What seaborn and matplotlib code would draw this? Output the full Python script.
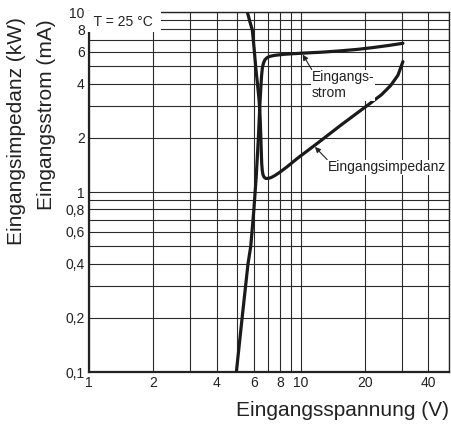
import numpy as np
import pandas as pd
import matplotlib
matplotlib.use("Agg")
import matplotlib.pyplot as plt
import seaborn as sns

# Curve values (log-log)
strom_v = [4.96, 5.28, 5.63, 5.8, 6.0, 6.15, 6.3, 6.4, 6.47, 6.52, 6.58, 6.66, 6.76, 6.9,
           7.1, 7.5, 8.3, 10.0, 12.5, 15.0, 18.5, 22.0, 26.0, 30.3]
strom_ma = [0.1, 0.2, 0.4, 0.5, 0.8, 1.2, 2.0, 3.0, 3.8, 4.4, 4.9, 5.2, 5.42, 5.56,
            5.66, 5.74, 5.82, 5.9, 5.98, 6.07, 6.2, 6.35, 6.52, 6.7]

imp_v = [5.55, 5.75, 5.9, 6.02, 6.12, 6.25, 6.35, 6.42, 6.46, 6.5, 6.53, 6.57, 6.62, 6.7,
         6.82, 6.98, 7.2, 7.5, 7.9, 8.6, 9.64, 12.0, 15.5, 20.7, 24.0, 26.5, 28.7, 30.3]
imp_kw = [10.3, 8.8, 7.94, 6.2, 4.95, 3.9, 3.24, 2.6, 2.13, 1.7, 1.45, 1.32, 1.25, 1.21,
          1.19, 1.19, 1.2, 1.23, 1.28, 1.38, 1.54, 1.87, 2.36, 3.04, 3.47, 3.9, 4.45, 5.3]

x_grid = [1, 2, 3, 4, 5, 6, 7, 8, 9, 10, 20, 30, 40, 50]
x_labels = ["1", "2", "", "4", "", "6", "", "8", "", "10", "20", "", "40", ""]
y_grid = [0.1, 0.2, 0.3, 0.4, 0.5, 0.6, 0.7, 0.8, 0.9, 1, 2, 3, 4, 5, 6, 7, 8, 9, 10]
y_labels = ["0,1", "0,2", "", "0,4", "", "0,6", "", "0,8", "", "1", "2", "", "4", "", "6", "", "8", "", "10"]

sns.set_theme(style="white")
plt.rcParams["font.family"] = ["Liberation Sans", "DejaVu Sans"]

fig = plt.figure(figsize=(4.51, 4.24), dpi=100)
ax = fig.add_axes([89 / 451, 1 - 372 / 424, 360 / 451, 360 / 424])

df_s = pd.DataFrame({"U": strom_v, "I": strom_ma})
df_i = pd.DataFrame({"U": imp_v, "Z": imp_kw})
sns.lineplot(data=df_s, x="U", y="I", ax=ax, color="#1a1a1a", lw=2.3, sort=False, zorder=3)
sns.lineplot(data=df_i, x="U", y="Z", ax=ax, color="#1a1a1a", lw=2.3, sort=False, zorder=3)

ax.set_xscale("log")
ax.set_yscale("log")
ax.set_xlim(1, 50)
ax.set_ylim(0.1, 10)
ax.set_xticks(x_grid)
ax.set_xticklabels(x_labels)
ax.set_yticks(y_grid)
ax.set_yticklabels(y_labels)
ax.minorticks_off()
ax.tick_params(axis="both", length=0, pad=3, labelsize=10, colors="#222222")
ax.grid(True, color="#2a2a2a", lw=0.8)
for s in ax.spines.values():
    s.set_color("#222222")
    s.set_linewidth(1.0)
ax.spines["left"].set_linewidth(1.6)
ax.spines["bottom"].set_linewidth(1.6)
ax.set_xlabel("")
ax.set_ylabel("")

ax.text(0.004, 0.993, " T = 25 °C ", transform=ax.transAxes, ha="left", va="top",
        fontsize=10, color="#222222", zorder=4,
        bbox=dict(facecolor="white", edgecolor="none", pad=2.5))

arrow = dict(arrowstyle="-|>", color="#222222", lw=0.8, mutation_scale=8, relpos=(0, 1),
             shrinkA=0, shrinkB=0)
ax.annotate("Eingangs-\nstrom", xy=(10.2, 5.8), xytext=(11.3, 4.75), fontsize=10,
            ha="left", va="top", color="#222222", arrowprops=arrow, zorder=5,
            bbox=dict(facecolor="white", edgecolor="none", pad=0.5))
ax.annotate("Eingangsimpedanz", xy=(11.65, 1.78), xytext=(13.4, 1.5), fontsize=10,
            ha="left", va="top", color="#222222", arrowprops=arrow, zorder=5,
            bbox=dict(facecolor="white", edgecolor="none", pad=0.5))

fig.text(17 / 451, 1 - 245 / 424, "Eingangsimpedanz (kW)", rotation=90, ha="center",
         va="bottom", fontsize=15, color="#222222")
fig.text(47 / 451, 1 - 210 / 424, "Eingangsstrom (mA)", rotation=90, ha="center",
         va="bottom", fontsize=15, color="#222222")
fig.text(449 / 451, 1 - 410 / 424, "Eingangsspannung (V)", ha="right", va="center",
         fontsize=15, color="#222222")

fig.savefig("out.png", dpi=100)
